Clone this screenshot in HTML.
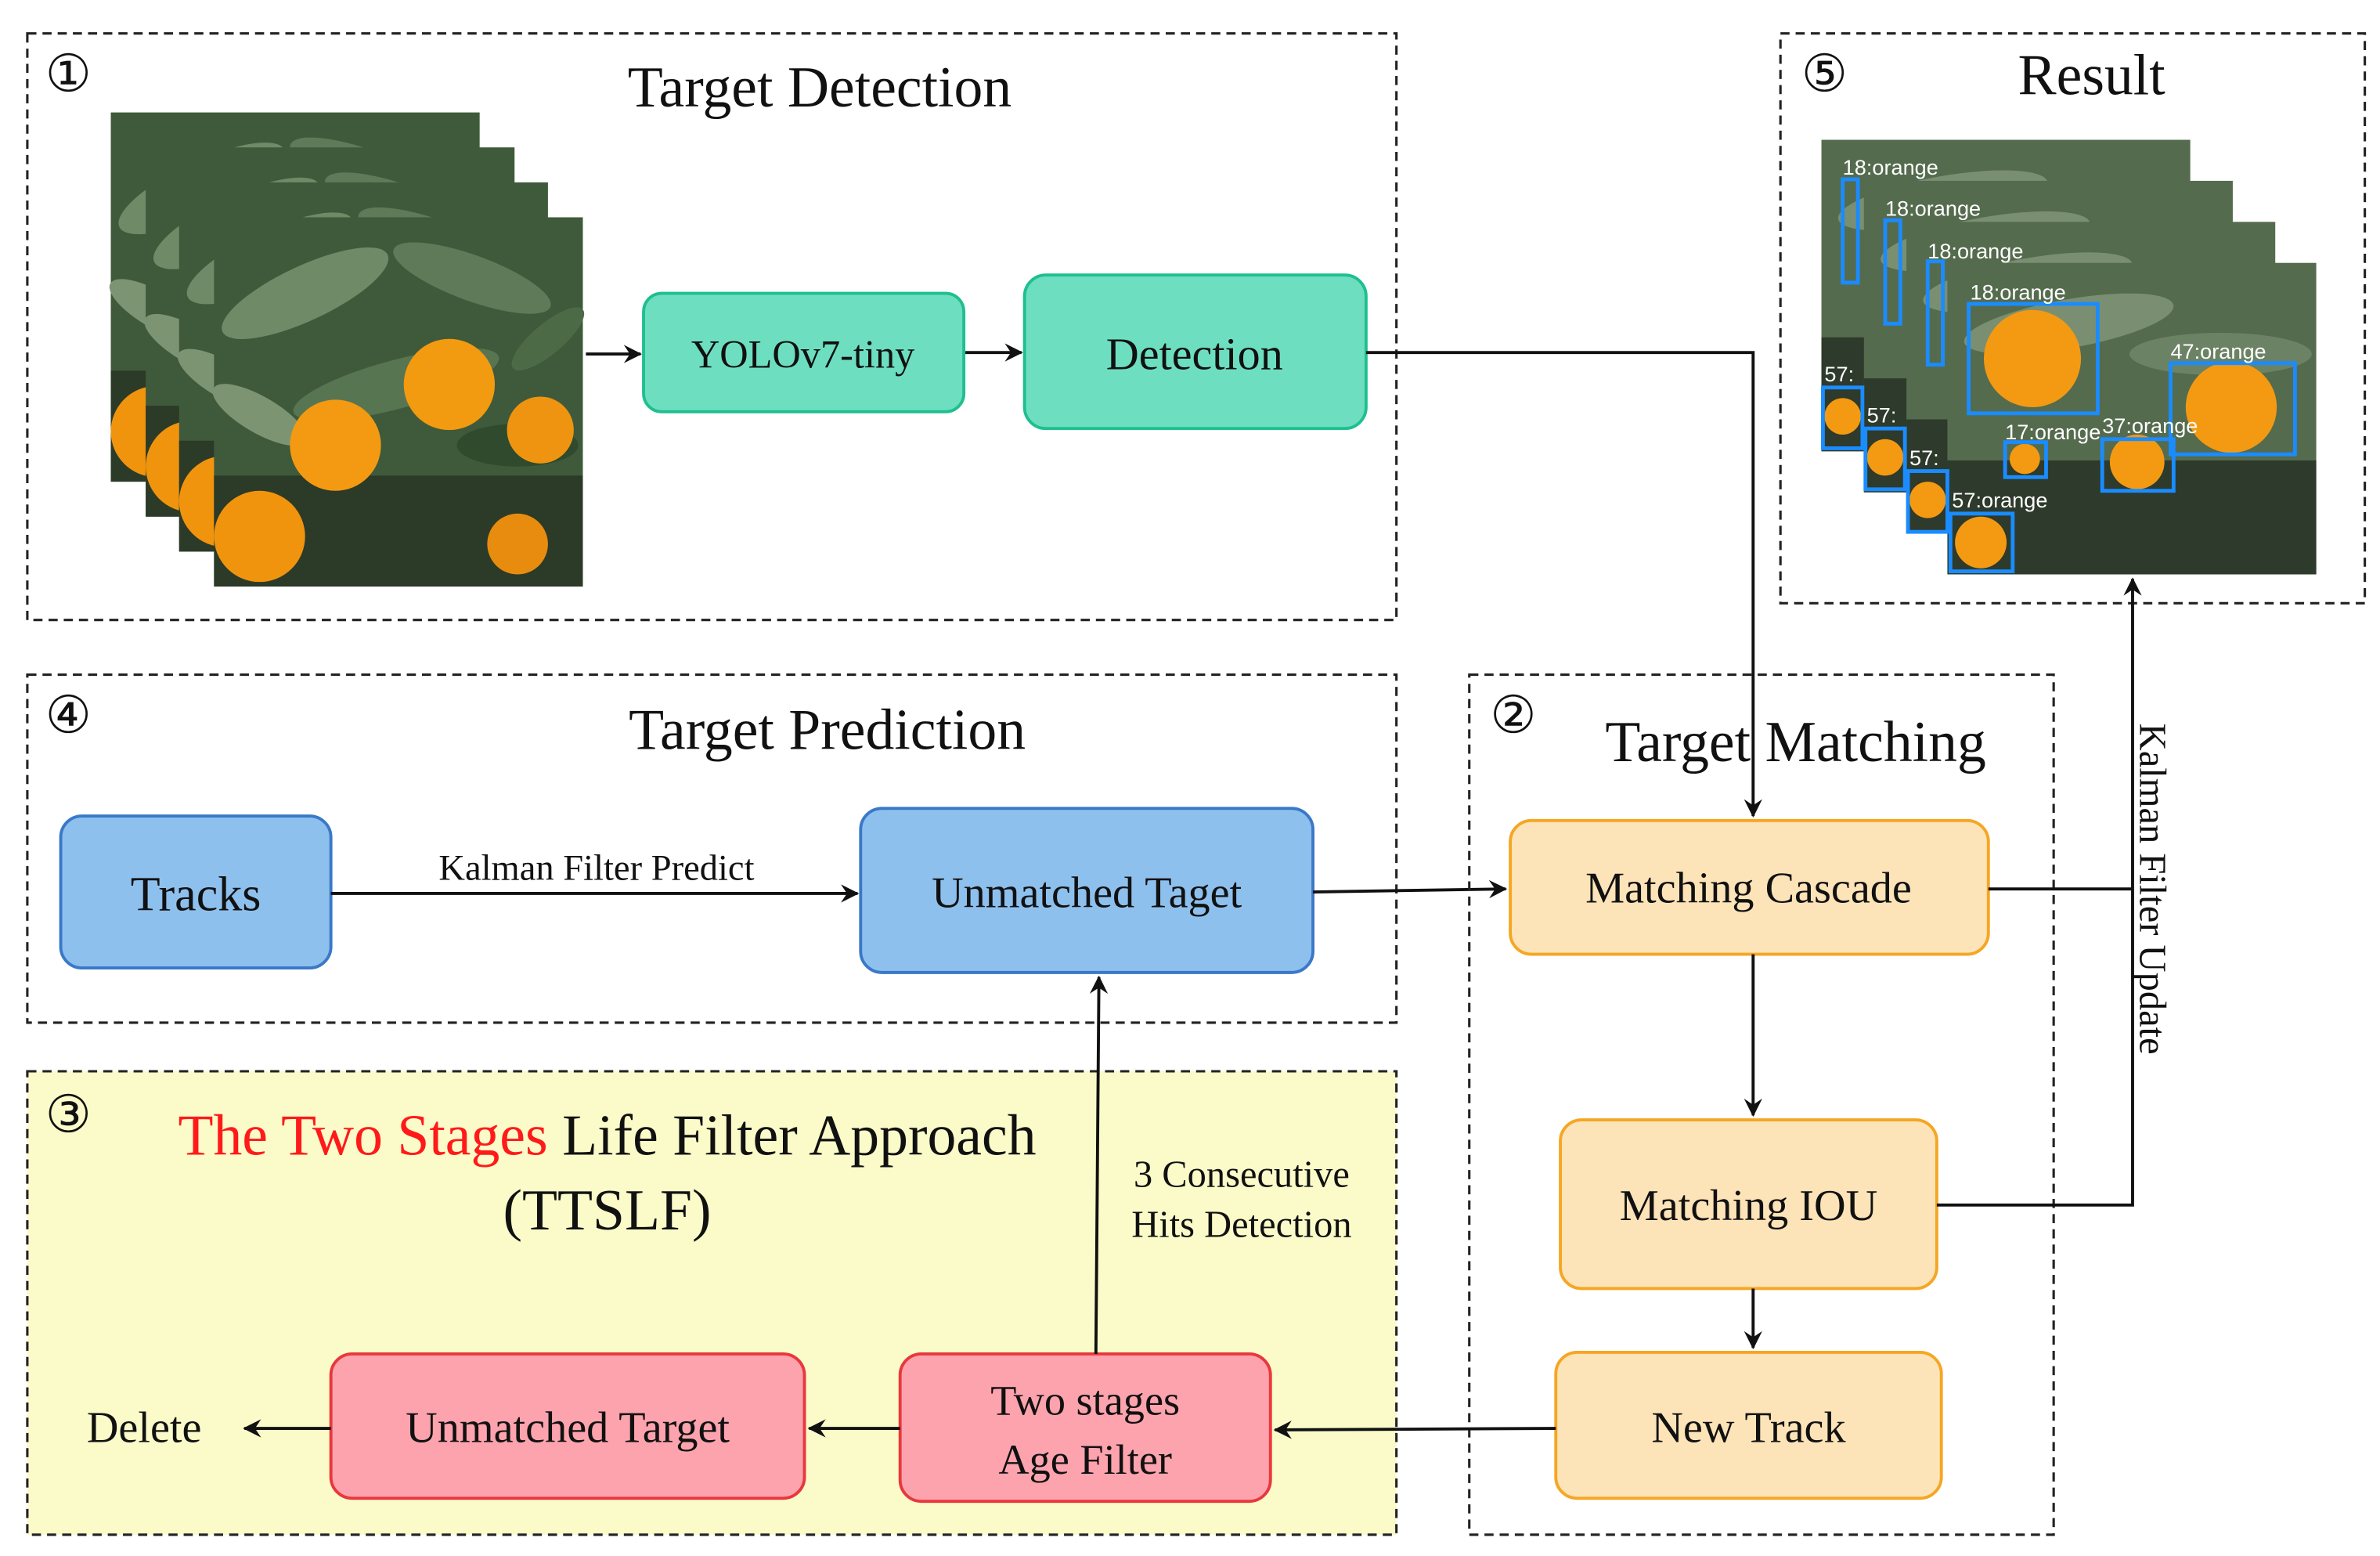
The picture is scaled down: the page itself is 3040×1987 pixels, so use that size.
<!DOCTYPE html>
<html><head><meta charset="utf-8"><style>
html,body{margin:0;padding:0;background:#fff;}
svg{display:block;}
text{font-family:"Liberation Serif",serif;fill:#111;}
text.lbl{font-family:"Liberation Sans",sans-serif;fill:#fff;}
text.red{fill:#ff1a1a;}
</style></head><body>
<svg width="3040" height="1987" viewBox="0 0 1568 1024" preserveAspectRatio="none" xmlns="http://www.w3.org/2000/svg">
<defs>
<marker id="ar" markerWidth="12" markerHeight="12" refX="11" refY="6" orient="auto" markerUnits="userSpaceOnUse"><path d="M0,0 L12,6 L0,12 L4,6 z" fill="#111"/></marker>
<g id="photo">
<rect x="0" y="0" width="243" height="243" fill="#3f5a3a"/>
<ellipse cx="60" cy="50" rx="60" ry="18" fill="#6f8a66" transform="rotate(-25 60 50)"/>
<ellipse cx="170" cy="40" rx="55" ry="15" fill="#5e7a58" transform="rotate(20 170 40)"/>
<ellipse cx="120" cy="110" rx="70" ry="16" fill="#587552" transform="rotate(-15 120 110)"/>
<ellipse cx="30" cy="130" rx="35" ry="12" fill="#7d9473" transform="rotate(30 30 130)"/>
<ellipse cx="220" cy="80" rx="30" ry="10" fill="#4d6a47" transform="rotate(-40 220 80)"/>
<ellipse cx="200" cy="150" rx="40" ry="14" fill="#2f4a2c"/>
<rect x="0" y="170" width="243" height="73" fill="#2c3a28"/>
<circle cx="155" cy="110" r="30" fill="#f29a10"/>
<circle cx="80" cy="150" r="30" fill="#f39a12"/>
<circle cx="215" cy="140" r="22" fill="#ef9410"/>
<circle cx="30" cy="210" r="30" fill="#f0940e"/>
<circle cx="200" cy="215" r="20" fill="#e88c10"/>
</g>
<g id="res">
<rect x="0" y="0" width="243" height="205" fill="#556b4e"/>
<ellipse cx="80" cy="40" rx="70" ry="16" fill="#7a8f72" transform="rotate(-10 80 40)"/>
<ellipse cx="180" cy="60" rx="60" ry="14" fill="#6c8264"/>
<rect x="0" y="130" width="243" height="75" fill="#2e3a2b"/>
</g>
</defs>

<!-- Box 1 -->
<rect x="18" y="22" width="902" height="386" fill="none" stroke="#222" stroke-width="1.6" stroke-dasharray="6,4"/>
<text x="45" y="60" font-size="34" text-anchor="middle">①</text>
<text x="540" y="70" font-size="38" text-anchor="middle">Target Detection</text>
<use href="#photo" x="73" y="74"/>
<use href="#photo" x="96" y="97"/>
<use href="#photo" x="118" y="120"/>
<use href="#photo" x="141" y="143"/>
<line x1="386" y1="233" x2="422" y2="233" stroke="#111" stroke-width="2" marker-end="url(#ar)"/>
<rect x="424" y="193" width="211" height="78" rx="12" fill="#6ddfc0" stroke="#1fbf8f" stroke-width="2"/>
<text x="529" y="242" font-size="26" text-anchor="middle">YOLOv7-tiny</text>
<line x1="636" y1="232" x2="673" y2="232" stroke="#111" stroke-width="2" marker-end="url(#ar)"/>
<rect x="675" y="181" width="225" height="101" rx="14" fill="#6ddfc0" stroke="#1fbf8f" stroke-width="2"/>
<text x="787" y="243" font-size="30" text-anchor="middle">Detection</text>
<polyline points="900,232 1155,232 1155,537" fill="none" stroke="#111" stroke-width="2" marker-end="url(#ar)"/>

<!-- Box 5 -->
<rect x="1173" y="22" width="385" height="375" fill="none" stroke="#222" stroke-width="1.6" stroke-dasharray="6,4"/>
<text x="1202" y="60" font-size="34" text-anchor="middle">⑤</text>
<text x="1378" y="62" font-size="38" text-anchor="middle">Result</text>
<use href="#res" x="1200" y="92"/>
<use href="#res" x="1228" y="119"/>
<use href="#res" x="1256" y="146"/>
<use href="#res" x="1283" y="173"/>
<g fill="#f39a12"><circle cx="1339" cy="236" r="32"/><circle cx="1470" cy="268" r="30"/><circle cx="1408" cy="304" r="18"/><circle cx="1334" cy="302" r="10"/><circle cx="1305" cy="357" r="17"/>
<circle cx="1214" cy="274" r="12"/><circle cx="1242" cy="301" r="12"/><circle cx="1270" cy="329" r="12"/></g>
<g fill="none" stroke="#1a8cff" stroke-width="2.5">
<rect x="1214" y="118" width="10" height="68"/>
<rect x="1242" y="145" width="10" height="68"/>
<rect x="1270" y="172" width="10" height="68"/>
<rect x="1297" y="200" width="85" height="72"/>
<rect x="1430" y="239" width="82" height="60"/>
<rect x="1321" y="291" width="27" height="23"/>
<rect x="1385" y="289" width="47" height="34"/>
<rect x="1285" y="338" width="41" height="38"/>
<rect x="1201" y="255" width="26" height="40"/>
<rect x="1229" y="282" width="26" height="40"/>
<rect x="1257" y="310" width="26" height="40"/>
</g>
<g font-size="14">
<text class="lbl" x="1214" y="115">18:orange</text>
<text class="lbl" x="1242" y="142">18:orange</text>
<text class="lbl" x="1270" y="170">18:orange</text>
<text class="lbl" x="1298" y="197">18:orange</text>
<text class="lbl" x="1430" y="236">47:orange</text>
<text class="lbl" x="1321" y="289">17:orange</text>
<text class="lbl" x="1385" y="285">37:orange</text>
<text class="lbl" x="1286" y="334">57:orange</text>
<text class="lbl" x="1202" y="251">57:</text>
<text class="lbl" x="1230" y="278">57:</text>
<text class="lbl" x="1258" y="306">57:</text>
</g>

<!-- Box 4 -->
<rect x="18" y="444" width="902" height="229" fill="none" stroke="#222" stroke-width="1.6" stroke-dasharray="6,4"/>
<text x="45" y="482" font-size="34" text-anchor="middle">④</text>
<text x="545" y="493" font-size="38" text-anchor="middle">Target Prediction</text>
<rect x="40" y="537" width="178" height="100" rx="14" fill="#8ec0ee" stroke="#3a78c8" stroke-width="2"/>
<text x="129" y="599" font-size="32" text-anchor="middle">Tracks</text>
<line x1="218" y1="588" x2="565" y2="588" stroke="#111" stroke-width="2" marker-end="url(#ar)"/>
<text x="393" y="579" font-size="24" text-anchor="middle">Kalman Filter Predict</text>
<rect x="567" y="532" width="298" height="108" rx="14" fill="#8ec0ee" stroke="#3a78c8" stroke-width="2"/>
<text x="716" y="597" font-size="29" text-anchor="middle">Unmatched  Taget</text>
<line x1="865" y1="587" x2="992" y2="585" stroke="#111" stroke-width="2" marker-end="url(#ar)"/>

<!-- Box 3 -->
<rect x="18" y="705" width="902" height="305" fill="#fafbc9" stroke="#222" stroke-width="1.6" stroke-dasharray="6,4"/>
<text x="45" y="745" font-size="34" text-anchor="middle">③</text>
<text x="400" y="760" font-size="38" text-anchor="middle"><tspan class="red" fill="#ff1a1a">The Two Stages</tspan> Life Filter Approach</text>
<text x="400" y="809" font-size="38" text-anchor="middle">(TTSLF)</text>
<rect x="593" y="891" width="244" height="97" rx="14" fill="#fca3ae" stroke="#e8383d" stroke-width="2"/>
<text x="715" y="931" font-size="28" text-anchor="middle">Two stages</text>
<text x="715" y="970" font-size="28" text-anchor="middle">Age Filter</text>
<rect x="218" y="891" width="312" height="95" rx="14" fill="#fca3ae" stroke="#e8383d" stroke-width="2"/>
<text x="374" y="949" font-size="29" text-anchor="middle">Unmatched  Target</text>
<line x1="593" y1="940" x2="533" y2="940" stroke="#111" stroke-width="2" marker-end="url(#ar)"/>
<line x1="218" y1="940" x2="161" y2="940" stroke="#111" stroke-width="2" marker-end="url(#ar)"/>
<text x="95" y="949" font-size="29" text-anchor="middle">Delete</text>
<line x1="722" y1="891" x2="724" y2="643" stroke="#111" stroke-width="2" marker-end="url(#ar)"/>
<text x="818" y="781" font-size="25" text-anchor="middle">3 Consecutive</text>
<text x="818" y="814" font-size="25" text-anchor="middle">Hits Detection</text>

<!-- Box 2 -->
<rect x="968" y="444" width="385" height="566" fill="none" stroke="#222" stroke-width="1.6" stroke-dasharray="6,4"/>
<text x="997" y="482" font-size="34" text-anchor="middle">②</text>
<text x="1183" y="501" font-size="38" text-anchor="middle">Target Matching</text>
<rect x="995" y="540" width="315" height="88" rx="14" fill="#fde3b8" stroke="#f5a623" stroke-width="2"/>
<text x="1152" y="594" font-size="29" text-anchor="middle">Matching  Cascade</text>
<line x1="1155" y1="628" x2="1155" y2="734" stroke="#111" stroke-width="2" marker-end="url(#ar)"/>
<rect x="1028" y="737" width="248" height="111" rx="14" fill="#fde3b8" stroke="#f5a623" stroke-width="2"/>
<text x="1152" y="803" font-size="29" text-anchor="middle">Matching  IOU</text>
<line x1="1155" y1="848" x2="1155" y2="887" stroke="#111" stroke-width="2" marker-end="url(#ar)"/>
<rect x="1025" y="890" width="254" height="96" rx="14" fill="#fde3b8" stroke="#f5a623" stroke-width="2"/>
<text x="1152" y="949" font-size="29" text-anchor="middle">New Track</text>
<polyline points="1310,585 1405,585" fill="none" stroke="#111" stroke-width="2"/>
<polyline points="1276,793 1405,793 1405,381" fill="none" stroke="#111" stroke-width="2" marker-end="url(#ar)"/>
<text transform="translate(1410,585) rotate(90)" font-size="25" text-anchor="middle">Kalman Filter Update</text>
<line x1="1025" y1="940" x2="840" y2="941" stroke="#111" stroke-width="2" marker-end="url(#ar)"/>
</svg>
</body></html>
